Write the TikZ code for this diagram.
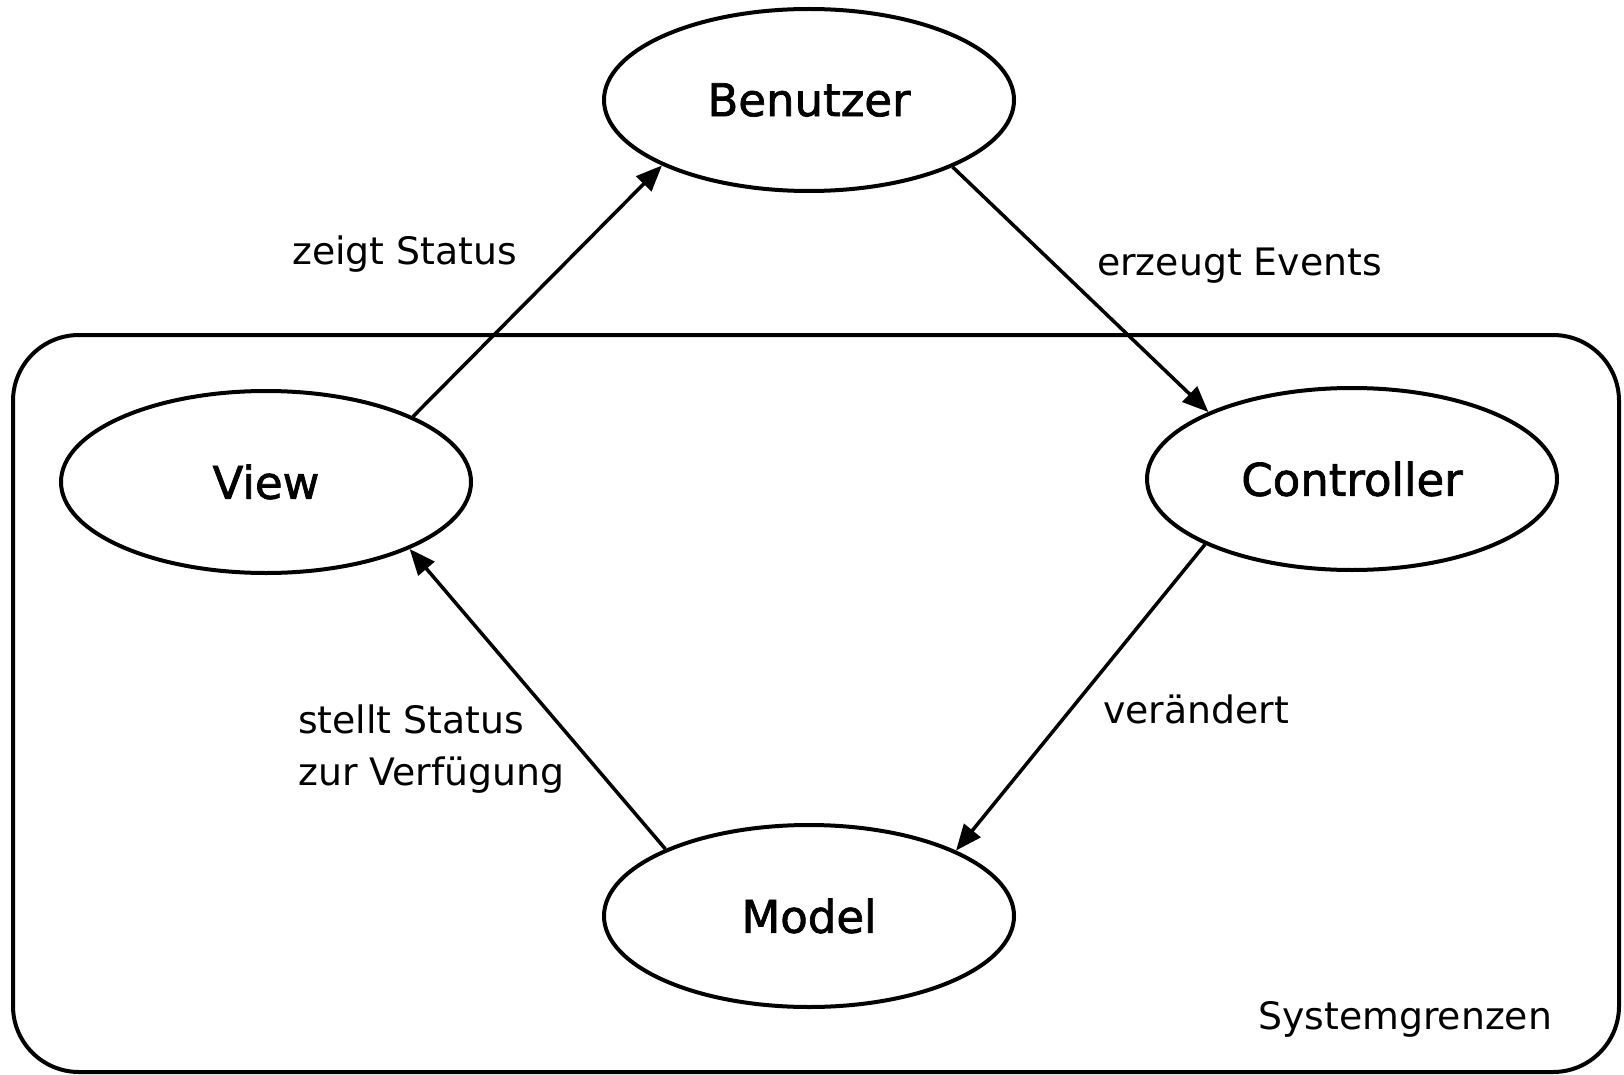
\documentclass[tikz,border=0pt]{standalone}
\usepackage{fontspec}
\setmainfont{DejaVu Sans}
\newfontfamily\nodefont[FakeBold=1.6]{DejaVu Sans}
\usetikzlibrary{shapes.geometric,arrows.meta}
\tikzset{
  actor/.style={ellipse, draw=black, line width=4pt, minimum width=410pt, minimum height=182pt, inner sep=0pt, font=\nodefont\fontsize{45}{54}\selectfont},
  flow/.style={draw=black, line width=3.5pt, -{Triangle[length=26pt,width=21pt]}},
  lbl/.style={anchor=base west, inner sep=0pt, font=\fontsize{37.8}{52}\selectfont},
  frame/.style={draw=black, line width=4pt, rounded corners=66pt}
}
\begin{document}
\begin{tikzpicture}[x=1pt,y=-1pt]
\useasboundingbox (0,0) rectangle (1624,1075);
\fill[white] (0,0) rectangle (1624,1075);
\draw[frame] (13,335) rectangle (1619,1072);
\node[actor] (benutzer) at (809,100) {Benutzer};
\node[actor] (view) at (266,482) {View};
\node[actor] (controller) at (1352,479) {Controller};
\node[actor] (model) at (809,916) {Model};
\draw[flow] (view.24.5) -- (benutzer.204.5);
\draw[flow] (benutzer.335.5) -- (controller.155.5);
\draw[flow] (controller.204.5) -- (model.24.5);
\draw[flow] (model.155.5) -- (view.335.5);
\node[lbl] (l1) at (292,265) {zeigt Status};
\node[lbl] (l2) at (1097,276) {erzeugt Events};
\node[lbl] (l3) at (1103,723) {verändert};
\node[lbl, align=left, anchor=north west] (l4) at (298,705) {stellt Status\\zur Verfügung};
\node[lbl] (l5) at (1258,1029) {Systemgrenzen};
\end{tikzpicture}
\end{document}
